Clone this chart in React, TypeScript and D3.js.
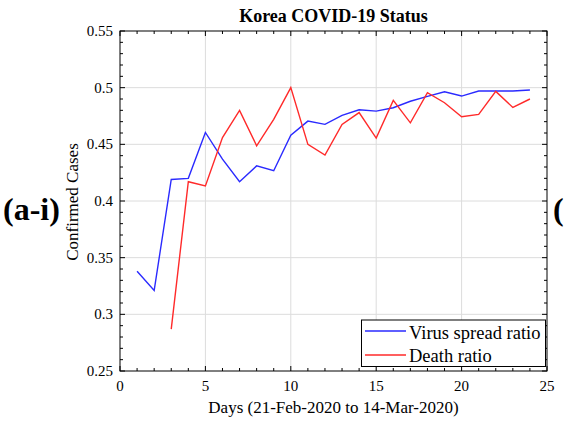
import React from "react";
import * as d3 from "d3";

const days = [1,2,3,4,5,6,7,8,9,10,11,12,13,14,15,16,17,18,19,20,21,22,23,24];
const virusSpread = [0.338,0.321,0.419,0.420,0.4605,0.437,0.417,0.431,0.4267,0.458,0.4705,0.4676,0.4755,0.4805,0.4793,0.4823,0.488,0.4923,0.4964,0.4926,0.497,0.497,0.497,0.498];
const deathDays = [3,4,5,6,7,8,9,10,11,12,13,14,15,16,17,18,19,20,21,22,23,24];
const deathRatio = [0.287,0.417,0.4132,0.456,0.480,0.4487,0.472,0.500,0.450,0.4405,0.4676,0.478,0.4555,0.4888,0.469,0.4955,0.4867,0.4743,0.4764,0.4967,0.4826,0.490];
const xTicks = [0,5,10,15,20,25];
const yTicks = [0.25,0.3,0.35,0.4,0.45,0.5,0.55];

const W = 564, H = 426;
const L = 120, R = 547, T = 31, B = 371;
const font = "'Liberation Serif', 'Times New Roman', serif";

export default function App() {
  const x = d3.scaleLinear().domain([0, 25]).range([L, R]);
  const y = d3.scaleLinear().domain([0.25, 0.55]).range([B, T]);
  const line = d3.line<[number, number]>().x(d => x(d[0])).y(d => y(d[1]));
  const blue = line(days.map((d, i) => [d, virusSpread[i]] as [number, number])) || "";
  const red = line(deathDays.map((d, i) => [d, deathRatio[i]] as [number, number])) || "";
  const xMinor = d3.range(0, 26, 1);
  const yMinor = d3.range(0, 31).map(i => 0.25 + i * 0.01);
  const fmt = (v: number) => String(+v.toFixed(2));
  return (
    <svg width={W} height={H} style={{ position: "absolute", left: 0, top: 0, background: "#fff" }} fontFamily={font}>
      <rect x={0} y={0} width={W} height={H} fill="#fff" />
      {xTicks.slice(1, -1).map(t => (
        <line key={"gx" + t} x1={x(t)} x2={x(t)} y1={T} y2={B} stroke="#dcdcdc" strokeWidth={1} />
      ))}
      {yTicks.slice(1, -1).map(t => (
        <line key={"gy" + t} x1={L} x2={R} y1={y(t)} y2={y(t)} stroke="#dcdcdc" strokeWidth={1} />
      ))}
      {xMinor.map(t => {
        const major = t % 5 === 0;
        const len = major ? 5 : 3;
        return (
          <g key={"xm" + t}>
            <line x1={x(t)} x2={x(t)} y1={B} y2={B - len} stroke="#000" />
            <line x1={x(t)} x2={x(t)} y1={T} y2={T + len} stroke="#000" />
          </g>
        );
      })}
      {yMinor.map((t, i) => {
        const major = i % 5 === 0;
        const len = major ? 5 : 3;
        return (
          <g key={"ym" + i}>
            <line x1={L} x2={L + len} y1={y(t)} y2={y(t)} stroke="#000" />
            <line x1={R} x2={R - len} y1={y(t)} y2={y(t)} stroke="#000" />
          </g>
        );
      })}
      <path d={blue} fill="none" stroke="#2a2aff" strokeWidth={1.4} />
      <path d={red} fill="none" stroke="#ff2a2a" strokeWidth={1.4} />
      <rect x={L} y={T} width={R - L} height={B - T} fill="none" stroke="#000" strokeWidth={1} />
      {xTicks.map(t => (
        <text key={"xl" + t} x={x(t)} y={B + 20} textAnchor="middle" fontSize={15}>{t}</text>
      ))}
      {yTicks.map(t => (
        <text key={"yl" + t} x={L - 7} y={y(t) + 5} textAnchor="end" fontSize={15}>{fmt(t)}</text>
      ))}
      <text x={(L + R) / 2} y={22} textAnchor="middle" fontSize={18} fontWeight="bold">Korea COVID-19 Status</text>
      <text x={(L + R) / 2} y={413} textAnchor="middle" fontSize={17}>Days (21-Feb-2020 to 14-Mar-2020)</text>
      <text transform={`translate(78, ${(T + B) / 2 + 1}) rotate(-90)`} textAnchor="middle" fontSize={17}>Confirmed Cases</text>
      <text x={3} y={220} fontSize={32} fontWeight="bold">(a-i)</text>
      <text x={553} y={220} fontSize={32} fontWeight="bold">(</text>
      <g>
        <rect x={361.5} y={320} width={184} height={46.5} fill="#fff" stroke="#000" strokeWidth={1} />
        <line x1={365} x2={406} y1={331} y2={331} stroke="#2a2aff" strokeWidth={1.4} />
        <line x1={365} x2={406} y1={355} y2={355} stroke="#ff2a2a" strokeWidth={1.4} />
        <text x={409} y={339} fontSize={18.5}>Virus spread ratio</text>
        <text x={409} y={362} fontSize={18.5}>Death ratio</text>
      </g>
    </svg>
  );
}
